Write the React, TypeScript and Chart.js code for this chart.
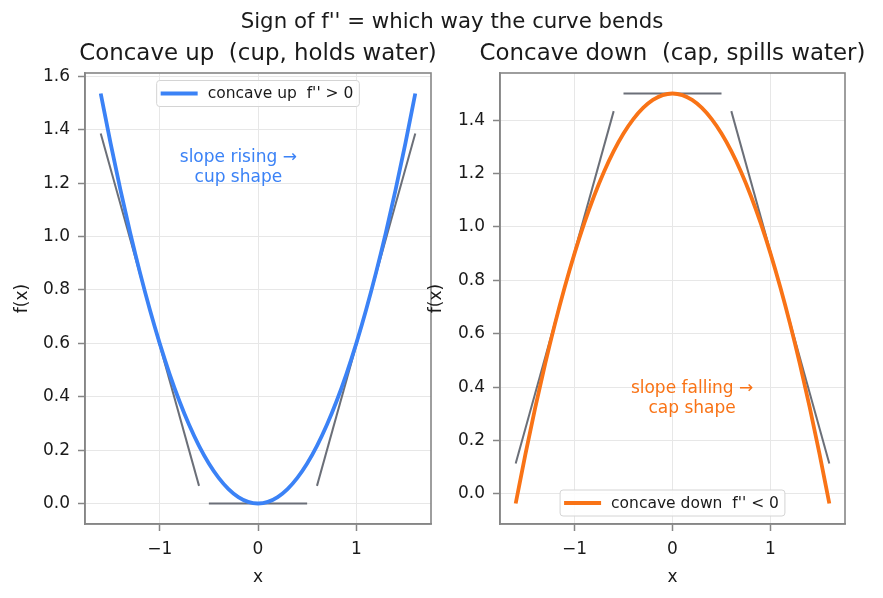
import React, { useEffect, useRef } from "react";
import { Chart, registerables } from "chart.js";

Chart.register(...registerables);

// ---- data ----
const xs = [-1.6, -1.5, -1.4, -1.3, -1.2, -1.1, -1.0, -0.9, -0.8, -0.7, -0.6, -0.5, -0.4, -0.3, -0.2, -0.1, 0,
  0.1, 0.2, 0.3, 0.4, 0.5, 0.6, 0.7, 0.8, 0.9, 1.0, 1.1, 1.2, 1.3, 1.4, 1.5, 1.6];
const upValues = [1.536, 1.35, 1.176, 1.014, 0.864, 0.726, 0.6, 0.486, 0.384, 0.294, 0.216, 0.15, 0.096, 0.054, 0.024, 0.006, 0,
  0.006, 0.024, 0.054, 0.096, 0.15, 0.216, 0.294, 0.384, 0.486, 0.6, 0.726, 0.864, 1.014, 1.176, 1.35, 1.536];
const downValues = [-0.036, 0.15, 0.324, 0.486, 0.636, 0.774, 0.9, 1.014, 1.116, 1.206, 1.284, 1.35, 1.404, 1.446, 1.476, 1.494, 1.5,
  1.494, 1.476, 1.446, 1.404, 1.35, 1.284, 1.206, 1.116, 1.014, 0.9, 0.774, 0.636, 0.486, 0.324, 0.15, -0.036];

// tangent segments: [x0, x1] and [y0, y1]
const upTanLeftX = [-1.6, -0.6];
const upTanLeftY = [1.386, 0.066];
const upTanRightX = [0.6, 1.6];
const upTanRightY = [0.066, 1.386];
const upTanMidX = [-0.5, 0.5];
const upTanMidY = [0, 0];
const downTanLeftX = [-1.6, -0.6];
const downTanLeftY = [0.114, 1.434];
const downTanRightX = [0.6, 1.6];
const downTanRightY = [1.434, 0.114];
const downTanMidX = [-0.5, 0.5];
const downTanMidY = [1.5, 1.5];

const xTicks = [-1, 0, 1];
const upYTicks = [0, 0.2, 0.4, 0.6, 0.8, 1.0, 1.2, 1.4, 1.6];
const downYTicks = [0, 0.2, 0.4, 0.6, 0.8, 1.0, 1.2, 1.4];

const suptitle = "Sign of f'' = which way the curve bends";
const upTitle = "Concave up  (cup, holds water)";
const downTitle = "Concave down  (cap, spills water)";
const upLegend = "concave up  f'' > 0";
const downLegend = "concave down  f'' < 0";
const upNote = ["slope rising \u2192", "cup shape"];
const downNote = ["slope falling \u2192", "cap shape"];

// ---- styles ----
const FONT = '"DejaVu Sans", sans-serif';
const BLUE = "#3b82f6";
const ORANGE = "#f97316";
const TAN = "#6b6f78";
const SPINE = "#868686";
const GRID = "#e7e7e7";
const TEXT = "#1a1a1a";
const W = 883;
const H = 598;

const pts = (xa: number[], ya: number[]) => xa.map((x, i) => ({ x, y: ya[i] }));

type Spec = {
  title: string;
  legend: string;
  legendPos: "top" | "bottom";
  color: string;
  note: string[];
  noteX: number;
  noteY: number;
  yLabelX: number;
  suptitle?: boolean;
  curve: number[];
  tans: [number[], number[]][];
  yMin: number;
  yMax: number;
  yTicks: number[];
  padLeft: number;
  padRight: number;
};

function makeDecor(spec: Spec) {
  return {
    id: "decor",
    afterDraw(chart: any) {
      const { ctx, chartArea: ca, scales } = chart;
      ctx.save();
      // full frame
      ctx.strokeStyle = SPINE;
      ctx.lineWidth = 1.6;
      ctx.strokeRect(ca.left, ca.top, ca.right - ca.left, ca.bottom - ca.top);
      const cx = (ca.left + ca.right) / 2;
      // suptitle
      ctx.fillStyle = TEXT;
      ctx.textAlign = "center";
      ctx.textBaseline = "alphabetic";
      if (spec.suptitle) {
        ctx.font = `21.3px ${FONT}`;
        ctx.fillText(suptitle, 452, 28);
      }
      // subplot title
      ctx.font = `22.9px ${FONT}`;
      ctx.fillText(spec.title, cx, 60);
      // axis labels
      ctx.font = `17px ${FONT}`;
      ctx.fillText("x", cx, 582);
      ctx.save();
      ctx.translate(spec.yLabelX, (ca.top + ca.bottom) / 2);
      ctx.rotate(-Math.PI / 2);
      ctx.textBaseline = "middle";
      ctx.fillText("f(x)", 0, 0);
      ctx.restore();
      // annotation
      const ax = scales.x.getPixelForValue(spec.noteX);
      const ay = scales.y.getPixelForValue(spec.noteY);
      ctx.fillStyle = spec.color;
      ctx.font = `17px ${FONT}`;
      ctx.textBaseline = "middle";
      ctx.fillText(spec.note[0], ax, ay - 12);
      ctx.fillText(spec.note[1], ax, ay + 8);
      // legend
      ctx.font = `15.5px ${FONT}`;
      const tw = ctx.measureText(spec.legend).width;
      const w = 4 + 37 + 10 + tw + 6;
      const h = 26;
      const lx = cx - w / 2;
      const ly = spec.legendPos === "top" ? ca.top + 7.5 : ca.bottom - 8 - h;
      ctx.beginPath();
      ctx.roundRect(lx, ly, w, h, 3);
      ctx.fillStyle = "rgba(255,255,255,0.85)";
      ctx.fill();
      ctx.strokeStyle = "#d4d4d4";
      ctx.lineWidth = 1;
      ctx.stroke();
      ctx.beginPath();
      ctx.moveTo(lx + 4, ly + h / 2);
      ctx.lineTo(lx + 41, ly + h / 2);
      ctx.strokeStyle = spec.color;
      ctx.lineWidth = 3.8;
      ctx.stroke();
      ctx.fillStyle = TEXT;
      ctx.textAlign = "left";
      ctx.textBaseline = "middle";
      ctx.fillText(spec.legend, lx + 51, ly + h / 2 + 0.5);
      ctx.restore();
    },
  };
}

function makeConfig(spec: Spec): any {
  const datasets: any[] = [
    {
      data: pts(xs, spec.curve),
      borderColor: spec.color,
      borderWidth: 3.8,
      pointRadius: 0,
      cubicInterpolationMode: "monotone",
      borderCapStyle: "butt",
    },
    ...spec.tans.map(([tx, ty]) => ({
      data: pts(tx, ty),
      borderColor: TAN,
      borderWidth: 2,
      pointRadius: 0,
      borderCapStyle: "butt",
    })),
  ];
  return {
    type: "line",
    data: { datasets },
    plugins: [makeDecor(spec)],
    options: {
      responsive: false,
      animation: false,
      devicePixelRatio: 1,
      layout: { padding: { left: 0, right: spec.padRight, top: 73, bottom: 0 } },
      plugins: { legend: { display: false }, title: { display: false }, tooltip: { enabled: false } },
      scales: {
        x: {
          type: "linear",
          min: -1.76,
          max: 1.76,
          afterBuildTicks: (s: any) => {
            s.ticks = xTicks.map((v) => ({ value: v }));
          },
          afterFit: (s: any) => {
            s.height = 74;
          },
          ticks: {
            callback: (v: number) => (v < 0 ? "\u2212" + Math.abs(v) : String(v)),
            font: { family: FONT, size: 17 },
            color: TEXT,
            padding: 8,
            maxRotation: 0,
            autoSkip: false,
          },
          grid: { color: GRID, lineWidth: 1, tickLength: 7, tickColor: SPINE, tickWidth: 1.5 },
          border: { display: true, color: SPINE, width: 1.6 },
        },
        y: {
          type: "linear",
          min: spec.yMin,
          max: spec.yMax,
          afterBuildTicks: (s: any) => {
            s.ticks = spec.yTicks.map((v) => ({ value: v }));
          },
          afterFit: (s: any) => {
            s.width = spec.padLeft;
          },
          ticks: {
            callback: (v: number) => v.toFixed(1),
            font: { family: FONT, size: 17 },
            color: TEXT,
            padding: 8,
            autoSkip: false,
          },
          grid: { color: GRID, lineWidth: 1, tickLength: 7, tickColor: SPINE, tickWidth: 1.5 },
          border: { display: true, color: SPINE, width: 1.6 },
        },
      },
    },
  };
}

const upSpec: Spec = {
  title: upTitle,
  legend: upLegend,
  legendPos: "top",
  color: BLUE,
  note: upNote,
  noteX: -0.2,
  noteY: 1.25,
  yLabelX: 23,
  suptitle: true,
  curve: upValues,
  tans: [
    [upTanLeftX, upTanLeftY],
    [upTanRightX, upTanRightY],
    [upTanMidX, upTanMidY],
  ],
  yMin: -0.0768,
  yMax: 1.6128,
  yTicks: upYTicks,
  padLeft: 85,
  padRight: W - 431,
};

const downSpec: Spec = {
  title: downTitle,
  legend: downLegend,
  legendPos: "bottom",
  color: ORANGE,
  note: downNote,
  noteX: 0.2,
  noteY: 0.35,
  yLabelX: 437,
  curve: downValues,
  tans: [
    [downTanLeftX, downTanLeftY],
    [downTanRightX, downTanRightY],
    [downTanMidX, downTanMidY],
  ],
  yMin: -0.1128,
  yMax: 1.5768,
  yTicks: downYTicks,
  padLeft: 500,
  padRight: W - 845,
};

export default function App() {
  const leftRef = useRef<HTMLCanvasElement>(null);
  const rightRef = useRef<HTMLCanvasElement>(null);
  useEffect(() => {
    const a = new Chart(leftRef.current as HTMLCanvasElement, makeConfig(upSpec));
    const b = new Chart(rightRef.current as HTMLCanvasElement, makeConfig(downSpec));
    return () => {
      a.destroy();
      b.destroy();
    };
  }, []);
  const cs: React.CSSProperties = { position: "absolute", left: 0, top: 0, width: W, height: H };
  return (
    <div style={{ position: "absolute", left: 0, top: 0, width: W, height: H, background: "#fff" }}>
      <canvas ref={leftRef} width={W} height={H} style={cs} />
      <canvas ref={rightRef} width={W} height={H} style={cs} />
    </div>
  );
}
